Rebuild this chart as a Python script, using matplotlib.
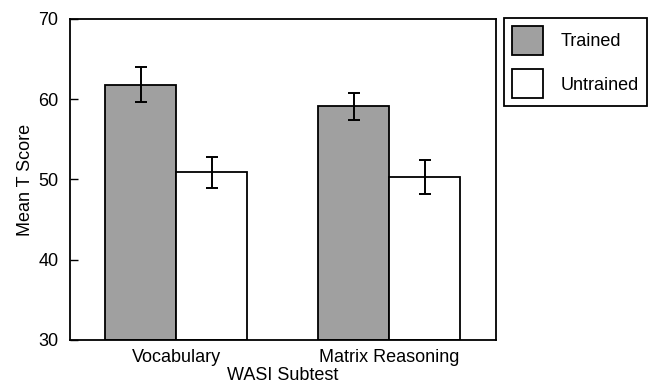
import numpy as np
import matplotlib
matplotlib.use("Agg")
import matplotlib.pyplot as plt

plt.rcParams['font.family'] = ['Liberation Sans', 'DejaVu Sans']

subtests = ["Vocabulary", "Matrix Reasoning"]
trained_mean = [61.8, 59.1]
trained_err = [2.2, 1.65]
untrained_mean = [50.9, 50.3]
untrained_err = [1.9, 2.1]
y_ticks = [30, 40, 50, 60, 70]


def main():
    fig = plt.figure(figsize=(6.48, 3.83), dpi=100)
    ax = fig.add_axes([0.108, 0.1123, 0.6574, 0.8381])

    x = np.arange(len(subtests))
    w = 1 / 3
    ekw = dict(elinewidth=1.4, capthick=1.4, ecolor='black')
    ax.bar(x - w / 2, np.array(trained_mean) - 30, w, bottom=30, color='#a0a0a0',
           edgecolor='black', linewidth=1.3, yerr=trained_err, capsize=4.3,
           error_kw=ekw, label='Trained')
    ax.bar(x + w / 2, np.array(untrained_mean) - 30, w, bottom=30, color='white',
           edgecolor='black', linewidth=1.3, yerr=untrained_err, capsize=4.3,
           error_kw=ekw, label='Untrained')

    ax.set_xlim(-0.5, 1.5)
    ax.set_ylim(30, 70)
    ax.set_yticks(y_ticks)
    ax.set_xticks(x)
    ax.set_xticklabels(subtests)
    ax.tick_params(axis='y', direction='in', length=6, width=1, pad=8.3, labelsize=13)
    ax.tick_params(axis='x', length=0, pad=6.5, labelsize=13)
    for s in ax.spines.values():
        s.set_linewidth(1.3)

    ax.set_xlabel("WASI Subtest", fontsize=13, labelpad=0.5)
    ax.set_ylabel("Mean T Score", fontsize=13, labelpad=3)

    leg = ax.legend(loc='upper right', bbox_to_anchor=(647 / 648, 1 - 18 / 383),
                    bbox_transform=fig.transFigure, fontsize=13,
                    handlelength=1.67, handleheight=2.1, handletextpad=1.0,
                    labelspacing=0.78, borderpad=0.45, borderaxespad=0,
                    fancybox=False, edgecolor='black', framealpha=1)
    leg.get_frame().set_linewidth(1.3)

    fig.savefig("out.png", dpi=100)
    plt.close(fig)


if __name__ == "__main__":
    main()
